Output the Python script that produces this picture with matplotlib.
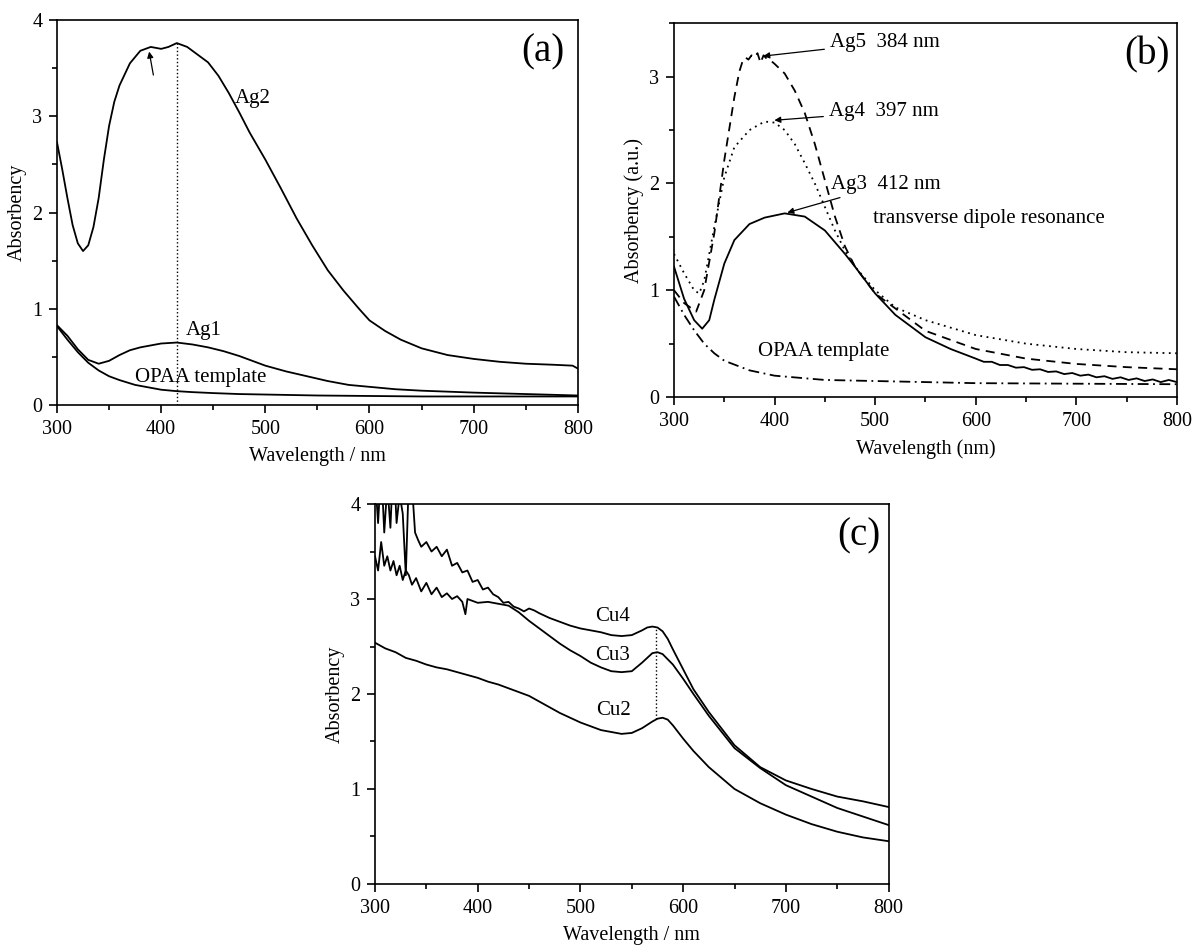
"""UV-vis absorbance spectra: (a) Ag1/Ag2, (b) Ag3-Ag5, (c) Cu2-Cu4 in OPAA template."""
import matplotlib
matplotlib.use("Agg")
import matplotlib.pyplot as plt
from matplotlib.ticker import MultipleLocator

plt.rcParams["font.family"] = ["Liberation Serif", "DejaVu Serif"]

# ---- panel (a) ----
ag2_x = [300, 305, 310, 315, 320, 325, 330, 335, 340, 345, 350, 355, 360, 370, 380, 390,
         400, 407, 415, 425, 435, 445, 455, 465, 475, 485, 500, 515, 530, 545, 560, 575,
         590, 600, 615, 630, 650, 675, 700, 725, 750, 775, 795, 800]
ag2_y = [2.73, 2.45, 2.15, 1.87, 1.68, 1.60, 1.66, 1.85, 2.15, 2.55, 2.90, 3.15, 3.32, 3.55,
         3.68, 3.72, 3.70, 3.72, 3.76, 3.72, 3.64, 3.56, 3.42, 3.24, 3.04, 2.83, 2.55, 2.25,
         1.94, 1.66, 1.40, 1.19, 1.00, 0.88, 0.77, 0.68, 0.59, 0.52, 0.48, 0.45, 0.43, 0.42,
         0.41, 0.38]
ag1_x = [300, 310, 320, 330, 340, 350, 360, 370, 380, 390, 400, 415, 430, 445, 460, 475,
         490, 500, 520, 540, 560, 580, 600, 625, 650, 700, 750, 800]
ag1_y = [0.83, 0.72, 0.58, 0.47, 0.43, 0.46, 0.52, 0.57, 0.60, 0.62, 0.64, 0.65, 0.63, 0.60,
         0.56, 0.51, 0.45, 0.41, 0.35, 0.30, 0.25, 0.21, 0.19, 0.165, 0.15, 0.13, 0.115, 0.10]
opaa_a_x = [300, 310, 320, 330, 340, 350, 360, 375, 390, 400, 415, 430, 450, 475, 500, 550,
            600, 650, 700, 750, 800]
opaa_a_y = [0.82, 0.68, 0.55, 0.44, 0.36, 0.30, 0.26, 0.21, 0.18, 0.16, 0.145, 0.135, 0.125,
            0.115, 0.11, 0.10, 0.095, 0.09, 0.09, 0.09, 0.09]
peak_a = 415

# ---- panel (b) ----
ag3_x = [300, 310, 320, 328, 335, 340, 350, 360, 375, 390, 410, 430, 450, 470, 480, 500,
         520, 550, 575, 600, 608, 616, 624, 632, 640, 648, 656, 664, 672, 680, 688, 696,
         704, 712, 720, 728, 736, 744, 752, 760, 768, 776, 784, 792, 800]
ag3_y = [1.22, 0.92, 0.72, 0.64, 0.72, 0.91, 1.25, 1.47, 1.62, 1.68, 1.72, 1.69, 1.56, 1.34,
         1.22, 0.97, 0.77, 0.56, 0.45, 0.36, 0.33, 0.33, 0.30, 0.30, 0.275, 0.28, 0.255,
         0.26, 0.235, 0.24, 0.215, 0.225, 0.20, 0.21, 0.185, 0.195, 0.17, 0.185, 0.16, 0.175,
         0.15, 0.165, 0.14, 0.16, 0.14]
ag4_x = [300, 310, 320, 325, 330, 340, 350, 360, 375, 390, 400, 410, 420, 430, 440, 450,
         460, 470, 480, 500, 520, 550, 600, 650, 700, 750, 800]
ag4_y = [1.34, 1.16, 1.00, 0.97, 1.09, 1.59, 2.06, 2.34, 2.50, 2.58, 2.57, 2.50, 2.37, 2.19,
         2.00, 1.78, 1.56, 1.37, 1.22, 1.00, 0.84, 0.72, 0.58, 0.50, 0.45, 0.42, 0.41]
ag5_x = [300, 310, 322, 330, 340, 350, 360, 365, 368, 371, 374, 377, 380, 383, 386, 389,
         392, 395, 400, 410, 420, 430, 440, 450, 460, 470, 480, 500, 550, 600, 650, 700,
         750, 800]
ag5_y = [1.00, 0.88, 0.80, 1.00, 1.53, 2.22, 2.81, 3.05, 3.14, 3.18, 3.16, 3.20, 3.18, 3.22,
         3.13, 3.20, 3.17, 3.16, 3.12, 3.03, 2.87, 2.66, 2.37, 2.03, 1.69, 1.41, 1.22, 0.97,
         0.62, 0.45, 0.36, 0.31, 0.28, 0.26]
opaa_b_x = [300, 310, 320, 330, 340, 350, 375, 400, 450, 500, 600, 700, 800]
opaa_b_y = [0.94, 0.77, 0.625, 0.50, 0.41, 0.34, 0.25, 0.20, 0.16, 0.15, 0.13, 0.125, 0.12]

# ---- panel (c) ----
cu4_x = [300, 303, 306, 309, 312, 315, 318, 321, 324, 327, 330, 333, 336, 339, 342, 345,
         350, 355, 360, 365, 370, 375, 380, 385, 390, 395, 400, 405, 410, 415, 420, 425,
         430, 435, 440, 445, 450, 455, 460, 470, 480, 490, 500, 510, 520, 530, 540, 550,
         560, 565, 570, 575, 580, 585, 590, 600, 610, 625, 650, 675, 700, 725, 750, 775, 800]
cu4_y = [4.30, 3.80, 4.40, 3.70, 4.20, 3.75, 4.50, 3.80, 4.10, 3.90, 3.25, 4.30, 4.20, 3.70,
         3.62, 3.55, 3.60, 3.50, 3.55, 3.45, 3.52, 3.35, 3.38, 3.28, 3.30, 3.18, 3.20, 3.10,
         3.12, 3.05, 3.02, 2.96, 2.97, 2.92, 2.90, 2.87, 2.90, 2.88, 2.85, 2.80, 2.76, 2.72,
         2.69, 2.67, 2.65, 2.62, 2.61, 2.62, 2.67, 2.70, 2.71, 2.70, 2.66, 2.58, 2.47, 2.26,
         2.05, 1.81, 1.46, 1.23, 1.09, 1.00, 0.92, 0.87, 0.81]
cu3_x = [300, 303, 306, 309, 312, 315, 318, 321, 324, 327, 330, 333, 336, 340, 345, 350,
         355, 360, 365, 370, 375, 380, 385, 388, 390, 395, 400, 410, 420, 430, 440, 450,
         460, 470, 480, 490, 500, 510, 520, 530, 540, 550, 560, 565, 570, 575, 580, 590,
         600, 610, 625, 650, 675, 700, 750, 800]
cu3_y = [3.45, 3.30, 3.60, 3.35, 3.45, 3.30, 3.40, 3.25, 3.35, 3.20, 3.30, 3.25, 3.15, 3.22,
         3.08, 3.17, 3.05, 3.12, 3.02, 3.06, 3.00, 3.03, 2.97, 2.84, 3.00, 2.98, 2.96, 2.97,
         2.95, 2.93, 2.86, 2.77, 2.69, 2.61, 2.53, 2.46, 2.40, 2.33, 2.28, 2.24, 2.23, 2.24,
         2.33, 2.38, 2.43, 2.44, 2.42, 2.31, 2.16, 2.00, 1.77, 1.43, 1.22, 1.04, 0.80, 0.62]
cu2_x = [300, 310, 320, 330, 340, 350, 360, 370, 380, 390, 400, 410, 420, 430, 440, 450,
         460, 470, 480, 490, 500, 510, 520, 530, 540, 550, 560, 570, 575, 580, 585, 590,
         600, 610, 625, 650, 675, 700, 725, 750, 775, 800]
cu2_y = [2.54, 2.48, 2.44, 2.38, 2.35, 2.31, 2.28, 2.26, 2.23, 2.20, 2.17, 2.13, 2.10, 2.06,
         2.02, 1.98, 1.92, 1.86, 1.80, 1.75, 1.70, 1.66, 1.62, 1.60, 1.58, 1.59, 1.64, 1.71,
         1.74, 1.75, 1.73, 1.67, 1.53, 1.40, 1.23, 1.00, 0.85, 0.73, 0.63, 0.55, 0.49, 0.45]
peak_c = 574

FS = 14.5      # ticks / axis labels
FS_NOTE = 15   # curve annotations
FS_TAG = 28    # (a), (b), (c)
LW = 1.3


def style(ax, ymax, xlabel, ylabel):
    ax.set_xlim(300, 800)
    ax.set_ylim(0, ymax)
    ax.xaxis.set_major_locator(MultipleLocator(100))
    ax.xaxis.set_minor_locator(MultipleLocator(50))
    ax.yaxis.set_major_locator(MultipleLocator(1))
    ax.yaxis.set_minor_locator(MultipleLocator(0.5))
    ax.tick_params(which="major", direction="out", length=5.5, width=1.2, labelsize=FS, pad=5)
    ax.tick_params(which="minor", direction="out", length=3.5, width=1.2)
    for s in ax.spines.values():
        s.set_linewidth(1.2)
    ax.set_xlabel(xlabel, fontsize=FS, labelpad=6)
    ax.set_ylabel(ylabel, fontsize=FS)


fig = plt.figure(figsize=(12, 9.51), dpi=100)

# (a)
ax = fig.add_axes([0.0475, 0.574, 0.434, 0.405])
ax.plot(ag2_x, ag2_y, "k-", lw=LW)
ax.plot(ag1_x, ag1_y, "k-", lw=LW)
ax.plot(opaa_a_x, opaa_a_y, "k-", lw=LW)
ax.plot([peak_a, peak_a], [0, max(ag2_y)], "k:", lw=1.0)
ax.annotate("", xy=(388, 3.70), xytext=(393, 3.40),
            arrowprops=dict(arrowstyle="-|>", color="k", lw=0.9, mutation_scale=9))
ax.text(471, 3.18, "Ag2", fontsize=FS_NOTE, va="center")
ax.text(424, 0.78, "Ag1", fontsize=FS_NOTE, va="center")
ax.text(375, 0.29, "OPAA template", fontsize=FS_NOTE, va="center")
ax.text(0.975, 0.965, "(a)", transform=ax.transAxes, fontsize=FS_TAG, ha="right", va="top")
style(ax, 4, "Wavelength / nm", "Absorbency")

# (b)
ax = fig.add_axes([0.5617, 0.5825, 0.419, 0.393])
ax.plot(ag3_x, ag3_y, "k-", lw=LW)
ax.plot(ag4_x, ag4_y, "k", ls=(0, (1, 2.5)), lw=LW)
ax.plot(ag5_x, ag5_y, "k", ls=(0, (5, 3.5)), lw=LW)
ax.plot(opaa_b_x, opaa_b_y, "k", ls=(0, (6, 2.5, 1, 2.5)), lw=LW)
arrow = dict(arrowstyle="-|>", color="k", lw=0.9, mutation_scale=9)
ax.annotate("Ag5  384 nm", xy=(386, 3.19), xytext=(455, 3.32), fontsize=FS_NOTE,
            va="center", arrowprops=arrow)
ax.annotate("Ag4  397 nm", xy=(397, 2.59), xytext=(454, 2.67), fontsize=FS_NOTE,
            va="center", arrowprops=arrow)
ax.annotate("Ag3  412 nm", xy=(410, 1.72), xytext=(456, 1.99), fontsize=FS_NOTE,
            va="center", arrowprops=arrow)
ax.text(498, 1.67, "transverse dipole resonance", fontsize=FS_NOTE, va="center")
ax.text(383, 0.43, "OPAA template", fontsize=FS_NOTE, va="center")
ax.text(0.985, 0.965, "(b)", transform=ax.transAxes, fontsize=FS_TAG, ha="right", va="top")
style(ax, 3.5, "Wavelength (nm)", "Absorbency (a.u.)")

# (c)
ax = fig.add_axes([0.3125, 0.0705, 0.428, 0.3995])
ax.plot(cu4_x, cu4_y, "k-", lw=LW)
ax.plot(cu3_x, cu3_y, "k-", lw=LW)
ax.plot(cu2_x, cu2_y, "k-", lw=LW)
ax.plot([peak_c, peak_c], [1.74, 2.70], "k:", lw=1.0)
ax.text(514, 2.82, "Cu4", fontsize=FS_NOTE, va="center")
ax.text(514, 2.40, "Cu3", fontsize=FS_NOTE, va="center")
ax.text(515, 1.83, "Cu2", fontsize=FS_NOTE, va="center")
ax.text(0.985, 0.965, "(c)", transform=ax.transAxes, fontsize=FS_TAG, ha="right", va="top")
style(ax, 4, "Wavelength / nm", "Absorbency")

fig.savefig("out.png", dpi=100)
